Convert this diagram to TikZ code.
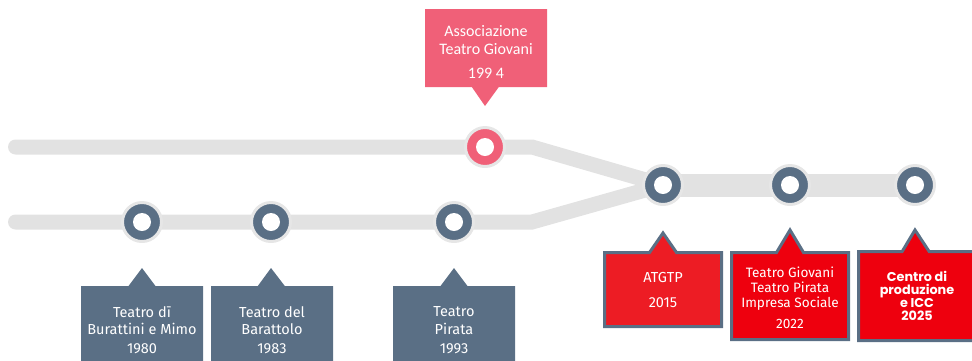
\documentclass[tikz,border=0pt]{standalone}
\usepackage{fontspec}
\setmainfont{Fira Sans}
\newfontfamily\pinkfont{Carlito}
\newfontfamily\poppinsfont{Poppins}
\usetikzlibrary{shapes.callouts}
\definecolor{slate}{HTML}{5A6F85}
\definecolor{pinkred}{HTML}{F06078}
\definecolor{railgrey}{HTML}{E2E2E2}
\definecolor{ringgrey}{HTML}{E6E6E6}
\definecolor{redA}{HTML}{ED1C24}
\definecolor{redB}{HTML}{EE000E}

\begin{document}
\begin{tikzpicture}[x=1pt,y=-1pt,
   rail/.style={draw=railgrey,line width=15pt},
   stop/.style={circle,draw=ringgrey,line width=3pt,minimum size=39pt,inner sep=0pt,
     path picture={\fill[white] (path picture bounding box.center) circle (9pt);}},
   tagbox/.style={rectangle callout,callout pointer width=27pt,text=white,align=center,inner sep=0pt},
   redbox/.style={tagbox,draw=slate,line width=3pt,minimum width=117pt},
   slatebox/.style={tagbox,fill=slate,minimum width=122pt,minimum height=88pt,
     font=\fontsize{14.5}{17.5}\selectfont}]
   \useasboundingbox (0,0) rectangle (972,360);
   \clip (0,0) rectangle (972,360);
   \coordinate (topstart) at (15.5,147);
   \coordinate (topbend) at (532,147);
   \coordinate (botstart) at (15.5,222);
   \coordinate (botbend) at (532,222);
   \coordinate (join) at (663,185);
   \coordinate (last) at (915,185);
   \draw[rail,line cap=round] (topstart) -- (topbend) -- (join);
   \draw[rail,line cap=round] (botstart) -- (botbend) -- (join);
   \draw[rail,line width=23pt] (join) -- (last);
   \path (485,147) node[stop,fill=pinkred] (c0) {};
   \path (142,222) node[stop,fill=slate] (b1) {};
   \path (271,222) node[stop,fill=slate] (b2) {};
   \path (454,222) node[stop,fill=slate] (b3) {};
   \path (join) node[stop,fill=slate] (r1) {};
   \path (790,185) node[stop,fill=slate] (r2) {};
   \path (last) node[stop,fill=slate] (r3) {};
   \path (486,48) node[tagbox,fill=pinkred,minimum width=122pt,minimum height=78pt,
     callout absolute pointer={([yshift=20pt]c0.north)},
     font=\pinkfont\fontsize{16}{18}\selectfont] (a0)
     {\rule{0pt}{18pt}Associazione\\Teatro Giovani\\[6pt]199 4};
   \path (142,330) node[slatebox,callout absolute pointer={([yshift=-25pt]b1.south)}] (t1)
     {Teatro dī\\Burattini e Mimo\\[1.5pt]1980};
   \path (272,330) node[slatebox,callout absolute pointer={([yshift=-25pt]b2.south)}] (t2)
     {Teatro del\\Barattolo\\[1.5pt]1983};
   \path (454,330) node[slatebox,callout absolute pointer={([yshift=-25pt]b3.south)}] (t3)
     {Teatro\\Pirata\\[1.5pt]1993};
   \path (663,289.5) node[redbox,fill=redA,minimum height=74pt,
     callout absolute pointer={([yshift=-27pt]r1.south)},
     font=\fontsize{14.5}{15}\selectfont] (e1)
     {ATGTP\\[10pt]2015};
   \path (790,296) node[redbox,fill=redB,minimum height=87pt,
     callout absolute pointer={([yshift=-24pt]r2.south)},
     font=\fontsize{13.6}{15}\selectfont] (e2)
     {\rule{0pt}{14pt}Teatro Giovani\\Teatro Pirata\\Impresa Sociale\\[6pt]2022};
   \path (917,296) node[redbox,fill=redB,minimum height=89pt,
     callout absolute pointer={([yshift=-24pt]r3.south)},
     font=\poppinsfont\bfseries\fontsize{12.8}{13.2}\selectfont] (e3)
     {Centro di\\produzione\\e ICC\\2025};
\end{tikzpicture}
\end{document}
